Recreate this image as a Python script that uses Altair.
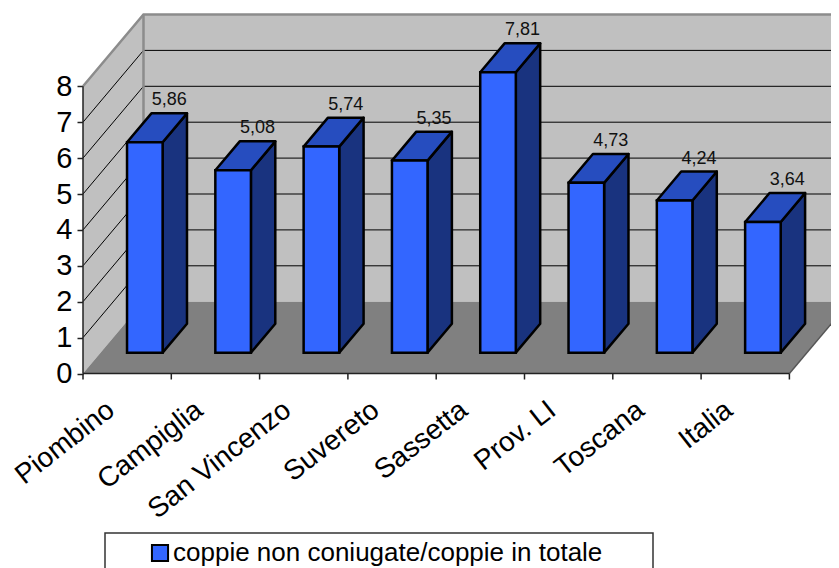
import json
import altair as alt
import pandas as pd

categories = ["Piombino", "Campiglia", "San Vincenzo", "Suvereto", "Sassetta", "Prov. LI", "Toscana", "Italia"]
values = [5.86, 5.08, 5.74, 5.35, 7.81, 4.73, 4.24, 3.64]
labels = ["5,86", "5,08", "5,74", "5,35", "7,81", "4,73", "4,24", "3,64"]
series_name = "coppie non coniugate/coppie in totale"
y_ticks = list(range(0, 9))
x_ticks = list(range(0, 9))

# Oblique projection: one unit of depth moves DX categories right and DY values up
DX, DY = 0.685, 2.0
Y_MAX, N = 8, len(categories)
BAR_INSET, BAR_W, BAR_D0, BAR_D = 0.30, 0.403, 0.29, 0.403
UX, UY = 88.3, 35.9        # px per category / per value
PLOT_W, PLOT_H = 748, 365.5
FONT = "Liberation Sans"

mids = [i + 0.5 for i in range(N)]
label_expr = "(" + json.dumps(categories) + ")[floor(datum.value)]"
AX_X = alt.Axis(values=mids, labelExpr=label_expr, title=None, grid=False, domain=False,
                ticks=False, labelAngle=-38, labelAlign="right", labelBaseline="top",
                labelFont=FONT, labelFontSize=28, labelColor="black", labelPadding=22, labelOffset=-25,
                labelOverlap=False, labelBound=False, labelFlush=False)
AX_Y = alt.Axis(values=y_ticks, title=None, grid=False, domain=False,
                tickColor="#222222", tickWidth=1.5, tickSize=6,
                labelFont=FONT, labelFontSize=29, labelColor="black", labelPadding=5)

xs = alt.Scale(domain=[0, PLOT_W / UX], nice=False, zero=False)
ys = alt.Scale(domain=[0, PLOT_H / UY], nice=False, zero=False)
X = lambda f="x": alt.X(f"{f}:Q", scale=xs, axis=AX_X)
Y = lambda f="y": alt.Y(f"{f}:Q", scale=ys, axis=AX_Y)
X2 = lambda f: alt.X2(f"{f}:Q")
Y2 = lambda f: alt.Y2(f"{f}:Q")

WALL, FLOOR, EDGE = "#C0C0C0", "#808080", "#8C8C8C"
FRONT, SIDE, TOP = "#3366FF", "#19337F", "#264DBF"

# --- walls and floor
back = alt.Chart(pd.DataFrame([{"x": DX, "x2": N + DX + 1, "y": DY, "y2": Y_MAX + DY}])).mark_rect(color=WALL).encode(
    x=X(), x2=X2("x2"), y=Y(), y2=Y2("y2"))
side_wall = alt.Chart(pd.DataFrame([
    {"x": 0, "y": 0, "y2": Y_MAX}, {"x": DX, "y": DY, "y2": Y_MAX + DY}])).mark_area(color=WALL).encode(
    x=X(), y=Y(), y2=Y2("y2"))
floor = alt.Chart(pd.DataFrame([
    {"y": 0, "x": 0, "x2": N}, {"y": DY, "x": DX, "x2": N + DX}])).mark_area(color=FLOOR, orient="horizontal").encode(
    y=Y(), x=X(), x2=X2("x2"))

# --- gridlines
grid_rows = []
for v in y_ticks[1:-1]:
    grid_rows.append({"v": v, "x": DX, "y": v + DY})
    grid_rows.append({"v": v, "x": N + DX + 1, "y": v + DY})
back_grid = alt.Chart(pd.DataFrame(grid_rows)).mark_line(color="black", strokeWidth=1).encode(
    x=X(), y=Y(), detail="v:N")
side_rows = []
for v in y_ticks[1:-1]:
    side_rows.append({"v": v, "x": 0, "y": v})
    side_rows.append({"v": v, "x": DX, "y": v + DY})
side_grid = alt.Chart(pd.DataFrame(side_rows)).mark_line(color="black", strokeWidth=1).encode(
    x=X(), y=Y(), detail="v:N")

edge_rows = [
    {"p": "a", "o": 0, "x": 0, "y": Y_MAX}, {"p": "a", "o": 1, "x": DX, "y": Y_MAX + DY},
    {"p": "a", "o": 2, "x": N + DX + 1, "y": Y_MAX + DY},
    {"p": "b", "o": 0, "x": DX, "y": DY}, {"p": "b", "o": 1, "x": DX, "y": Y_MAX + DY},
]
edges = alt.Chart(pd.DataFrame(edge_rows)).mark_line(color=EDGE, strokeWidth=2.5).encode(
    x=X(), y=Y(), detail="p:N", order="o:Q")
right_edge = alt.Chart(pd.DataFrame([{"x": N, "y": 0}, {"x": N + DX, "y": DY}])).mark_line(
    color="#555555", strokeWidth=1.5).encode(x=X(), y=Y())

# --- axis lines
axis_line_y = alt.Chart(pd.DataFrame([{"x": 0, "y": 0, "y2": Y_MAX}])).mark_rule(color="#222222", strokeWidth=1.5).encode(
    x=X(), y=Y(), y2=Y2("y2"))
axis_line_x = alt.Chart(pd.DataFrame([{"y": 0, "x": 0, "x2": N}])).mark_rule(color="#222222", strokeWidth=1.5).encode(
    y=Y(), x=X(), x2=X2("x2"))

# --- bars
front_rows, side_rows2, top_rows, label_rows = [], [], [], []
base = BAR_D0 * DY
for i, (c, v, l) in enumerate(zip(categories, values, labels)):
    x0 = i + BAR_INSET + BAR_D0 * DX
    x1 = x0 + BAR_W
    sx, sy = BAR_D * DX, BAR_D * DY
    front_rows.append({"c": c, "s": series_name, "x": x0, "x2": x1, "y": base, "y2": base + v})
    side_rows2 += [{"c": c, "x": x1, "y": base, "y2": base + v},
                   {"c": c, "x": x1 + sx, "y": base + sy, "y2": base + sy + v}]
    top_rows += [{"c": c, "y": base + v, "x": x0, "x2": x1},
                 {"c": c, "y": base + v + sy, "x": x0 + sx, "x2": x1 + sx}]
    label_rows.append({"t": l, "x": x0 + sx + BAR_W / 2, "y": base + v + sy})

bar_side = alt.Chart(pd.DataFrame(side_rows2)).mark_area(
    color=SIDE, stroke="black", strokeWidth=2.5, strokeJoin="round").encode(
    x=X(), y=Y(), y2=Y2("y2"), detail="c:N")
bar_top = alt.Chart(pd.DataFrame(top_rows)).mark_area(
    color=TOP, orient="horizontal", stroke="black", strokeWidth=2.5, strokeJoin="round").encode(
    y=Y(), x=X(), x2=X2("x2"), detail="c:N")
bar_front = alt.Chart(pd.DataFrame(front_rows)).mark_rect(stroke="black", strokeWidth=2.5).encode(
    x=X(), x2=X2("x2"), y=Y(), y2=Y2("y2"),
    fill=alt.Fill("s:N", scale=alt.Scale(domain=[series_name], range=[FRONT]),
                  legend=alt.Legend(orient="none", legendX=64, legendY=532, title=None, padding=0,
                                    symbolType="square", symbolSize=260, symbolStrokeColor="black",
                                    symbolStrokeWidth=2, symbolFillColor=FRONT, symbolOpacity=1,
                                    labelFont=FONT, labelFontSize=26, labelColor="black", labelLimit=600,
                                    labelOffset=0)))

data_labels = alt.Chart(pd.DataFrame(label_rows)).mark_text(
    font=FONT, fontSize=18, color="#111111", baseline="bottom", dy=-4).encode(x=X(), y=Y(), text="t:N")

tick_rows = [{"x": t, "y": 0, "y2": -6 / UY} for t in x_ticks]
x_ticks_layer = alt.Chart(pd.DataFrame(tick_rows)).mark_rule(color="#222222", strokeWidth=1.5).encode(
    x=X(), y=Y(), y2=Y2("y2"))

legend_box = alt.Chart(pd.DataFrame({"k": [0]})).mark_rect(
    fill="white", stroke="#333333", strokeWidth=1.5).encode(
    x=alt.value(22), x2=alt.value(570), y=alt.value(525), y2=alt.value(640))

chart = alt.layer(
    back, side_wall, floor, back_grid, side_grid, edges, right_edge,
    bar_side, bar_top, bar_front, axis_line_y, axis_line_x, x_ticks_layer,
    data_labels, legend_box,
).properties(
    width=PLOT_W, height=PLOT_H, background="white",
    padding={"left": 75, "top": 0, "right": 0, "bottom": 194.5},
    autosize=alt.AutoSizeParams(type="none"),
).configure_view(strokeWidth=0)

chart.save("out.html", embed_options={"renderer": "svg", "actions": False})
